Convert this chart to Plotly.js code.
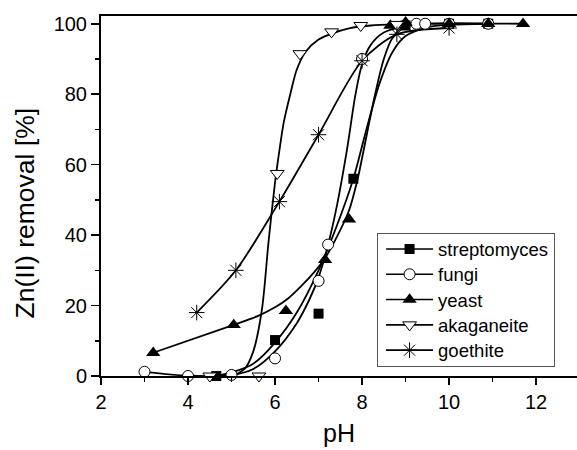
<!DOCTYPE html>
<html>
<head>
<meta charset="utf-8">
<script src="https://cdn.plot.ly/plotly-3.0.1.min.js"></script>
<style>html,body{margin:0;padding:0;background:#fff;}#chart{width:577px;height:450px;}</style>
</head>
<body>
<div id="chart"></div>
<script>
// ---- measured points (markers) ----
var streptoX = [4.65, 6.0, 7.0, 7.8, 9.0, 10.0, 10.9];
var streptoY = [0, 10.2, 17.7, 56, 99.5, 100, 100];
var fungiX = [3.0, 4.0, 5.0, 6.0, 7.0, 7.22, 8.0, 9.25, 9.45, 10.0, 10.9];
var fungiY = [1.2, 0, 0.3, 5.0, 27, 37.3, 90, 100, 100, 100, 100];
var yeastX = [3.2, 5.05, 6.25, 7.15, 7.7, 8.65, 9.0, 10.0, 10.9, 11.7];
var yeastY = [6.6, 14.5, 18.5, 33, 44.5, 99.5, 100.4, 100, 100, 100];
var akaX = [4.5, 5.63, 6.05, 6.57, 7.3, 7.97, 8.8];
var akaY = [0, 0, 57.5, 91.5, 97.7, 99.5, 99.8];
var goeX = [4.2, 5.1, 6.1, 7.0, 8.0, 8.8, 10.0];
var goeY = [18, 30, 49.5, 68.5, 89.5, 97, 98.8];

// ---- fitted curves ----
var streptoCurveX = [4.65, 5.0, 5.5, 6.0, 6.5, 7.0, 7.4, 7.8, 8.1, 8.4, 8.7, 9.0, 9.5, 10.0, 10.9];
var streptoCurveY = [0, 1, 3.5, 9.5, 18, 30, 42, 56, 70, 83, 92, 96.5, 99, 99.7, 100];
var fungiCurveX = [3.0, 4.0, 5.0, 5.5, 6.0, 6.5, 6.8, 7.0, 7.22, 7.4, 7.65, 7.85, 8.0, 8.2, 8.5, 9.0, 9.45, 10.9];
var fungiCurveY = [1.2, 0.1, 0.3, 2, 7, 15, 22, 28, 37.3, 47, 64, 80, 88.5, 94, 97.5, 99.3, 100, 100];
var yeastCurveX = [3.2, 5.05, 5.6, 6.0, 6.3, 6.6, 6.9, 7.15, 7.4, 7.7, 7.9, 8.1, 8.3, 8.5, 8.7, 9.0, 9.5, 11.7];
var yeastCurveY = [6.6, 14.5, 17, 19.5, 22, 25.5, 29.5, 33.5, 39, 47, 56, 68, 80, 90, 96, 99.5, 100, 100];
var akaCurveX = [4.5, 5.0, 5.3, 5.5, 5.7, 5.85, 6.0, 6.1, 6.2, 6.35, 6.5, 6.7, 7.0, 7.3, 7.7, 8.2, 8.8];
var akaCurveY = [0, 0, 2, 7, 19, 38, 55, 64, 72, 80, 87, 92, 95.5, 97.2, 98.7, 99.5, 99.8];

var names = ['streptomyces', 'fungi', 'yeast', 'akaganeite', 'goethite'];
var xTicks = [2, 4, 6, 8, 10, 12];
var yTicks = [0, 20, 40, 60, 80, 100];

function isolated(xs, ys) {
  // separate points by gaps so that only markers are drawn, while the legend shows line + marker
  var ox = [], oy = [];
  for (var i = 0; i < xs.length; i++) { ox.push(xs[i]); oy.push(ys[i]); ox.push(null); oy.push(null); }
  return {x: ox, y: oy};
}

var LW = 1.8;
var traces = [];
function curve(xs, ys) {
  return {x: xs, y: ys, mode: 'lines', type: 'scatter', showlegend: false, hoverinfo: 'skip',
    line: {color: '#000', width: LW, shape: 'spline', smoothing: 0.8}};
}
traces.push(curve(streptoCurveX, streptoCurveY));
traces.push(curve(fungiCurveX, fungiCurveY));
traces.push(curve(yeastCurveX, yeastCurveY));
traces.push(curve(akaCurveX, akaCurveY));
traces.push(curve(goeX, goeY));

var markerDefs = [
  [streptoX, streptoY, {symbol: 'square', size: 10, color: '#000', line: {width: 0}}],
  [fungiX, fungiY, {symbol: 'circle', size: 11, color: '#fff', line: {color: '#000', width: 1}}],
  [yeastX, yeastY, {symbol: 'triangle-up', size: 12.5, color: '#000', line: {width: 0}}],
  [akaX, akaY, {symbol: 'triangle-down', size: 12, color: '#fff', line: {color: '#000', width: 1}}],
  [goeX, goeY, {symbol: 'asterisk-open', size: 13, color: '#000', line: {color: '#000', width: 1}}]
];
for (var k = 0; k < markerDefs.length; k++) {
  var p = isolated(markerDefs[k][0], markerDefs[k][1]);
  traces.push({x: p.x, y: p.y, name: names[k], type: 'scatter', mode: 'lines+markers',
    connectgaps: false, line: {color: '#000', width: 1.6}, marker: markerDefs[k][2], cliponaxis: false});
}

var font = 'Liberation Sans, Arial, sans-serif';
var layout = {
  width: 577, height: 450,
  margin: {l: 101, r: 0, t: 16, b: 74},
  paper_bgcolor: '#fff', plot_bgcolor: '#fff',
  showlegend: true,
  font: {family: font, color: '#000', size: 20},
  xaxis: {
    range: [2, 12.94], tickvals: xTicks, ticktext: xTicks.map(String),
    ticks: 'outside', ticklen: 7, tickwidth: 1.5, tickcolor: '#000',
    minor: {dtick: 1, tick0: 1, ticks: 'outside', ticklen: 4, tickwidth: 1.5, tickcolor: '#000'},
    showline: true, linecolor: '#000', linewidth: 2, mirror: true,
    showgrid: false, zeroline: false,
    tickfont: {size: 20, family: font},
    title: {text: 'pH', font: {size: 25, family: font}, standoff: 12}
  },
  yaxis: {
    range: [0, 102.2], tickvals: yTicks, ticktext: yTicks.map(String),
    ticks: 'outside', ticklen: 8, tickwidth: 1.5, tickcolor: '#000',
    minor: {dtick: 10, tick0: 10, ticks: 'outside', ticklen: 4, tickwidth: 1.5, tickcolor: '#000'},
    showline: true, linecolor: '#000', linewidth: 2, mirror: false,
    showgrid: false, zeroline: false,
    tickfont: {size: 20, family: font}
  },
  annotations: [{
    text: 'Zn(II) removal [%]', xref: 'paper', yref: 'paper',
    x: -0.16, y: 0.4537, xanchor: 'center', yanchor: 'middle',
    textangle: -90, showarrow: false, font: {size: 26.5, family: font, color: '#000'}
  }],
  legend: {
    x: 0.58, y: 0.396, xanchor: 'left', yanchor: 'top',
    bgcolor: '#fff', bordercolor: '#555', borderwidth: 1,
    font: {size: 18.5, family: font}, itemwidth: 50, tracegroupgap: 0,
    entrywidth: 190, entrywidthmode: 'pixels'
  }
};
Plotly.newPlot('chart', traces, layout, {staticPlot: true}).then(function (gd) {
  // widen the legend sample line (as in the reference) and centre the marker on it
  gd.querySelectorAll('.legend .legendlines path').forEach(function (el) { el.setAttribute('d', 'M8,0h47'); });
  gd.querySelectorAll('.legend .legendpoints path').forEach(function (el) { el.setAttribute('transform', 'translate(31.5,0)'); });
  // tighter row spacing, as in the reference legend box
  var items = gd.querySelectorAll('.legend .traces');
  var y0 = null;
  items.forEach(function (el, i) {
    var m = /translate\(\s*([-\d.]+)[ ,]+([-\d.]+)\s*\)/.exec(el.getAttribute('transform') || '');
    if (!m) return;
    if (y0 === null) y0 = parseFloat(m[2]) - 4;
    el.setAttribute('transform', 'translate(' + m[1] + ',' + (y0 + i * 25.3) + ')');
  });
  var bg = gd.querySelector('.legend .bg');
  if (bg) bg.setAttribute('height', 133);
});
</script>
</body>
</html>
